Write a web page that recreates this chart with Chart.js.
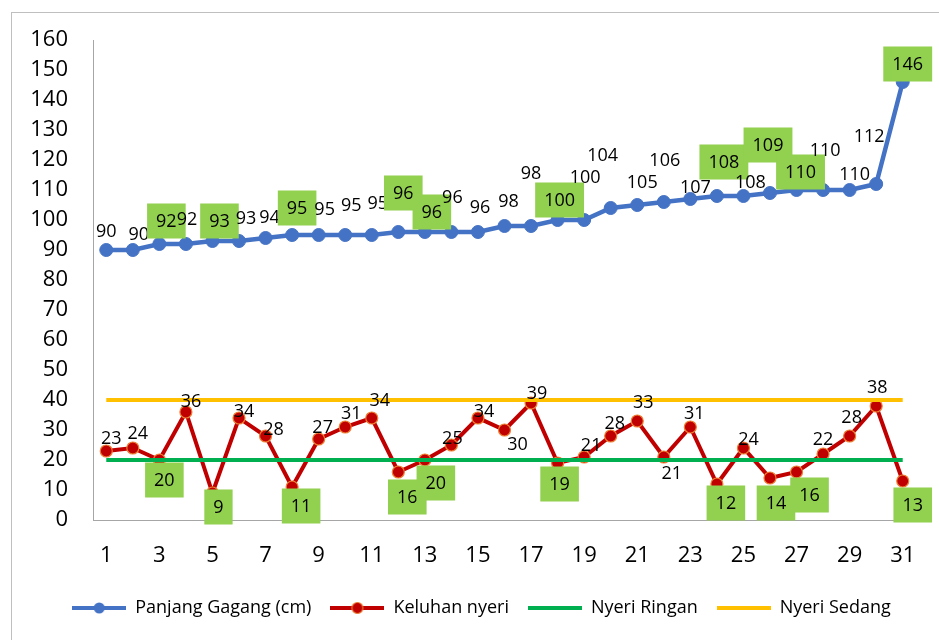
<!DOCTYPE html>
<html>
<head>
<meta charset="utf-8">
<script src="https://cdn.jsdelivr.net/npm/chart.js@4.4.1/dist/chart.umd.min.js"></script>
<style>
  body { margin: 0; background: #fff; }
</style>
</head>
<body>
<canvas id="lineChart" width="939" height="640"></canvas>
<script>
// data
var hari = [1, 2, 3, 4, 5, 6, 7, 8, 9, 10, 11, 12, 13, 14, 15, 16, 17, 18, 19, 20, 21, 22, 23, 24, 25, 26, 27, 28, 29, 30, 31];
var panjangGagang = [90, 90, 92, 92, 93, 93, 94, 95, 95, 95, 95, 96, 96, 96, 96, 98, 98, 100, 100, 104, 105, 106, 107, 108, 108, 109, 110, 110, 110, 112, 146];
var keluhanNyeri = [23, 24, 20, 36, 9, 34, 28, 11, 27, 31, 34, 16, 20, 25, 34, 30, 39, 19, 21, 28, 33, 21, 31, 12, 24, 14, 16, 22, 28, 38, 13];
var nyeriRingan = [20, 20, 20, 20, 20, 20, 20, 20, 20, 20, 20, 20, 20, 20, 20, 20, 20, 20, 20, 20, 20, 20, 20, 20, 20, 20, 20, 20, 20, 20, 20];
var nyeriSedang = [40, 40, 40, 40, 40, 40, 40, 40, 40, 40, 40, 40, 40, 40, 40, 40, 40, 40, 40, 40, 40, 40, 40, 40, 40, 40, 40, 40, 40, 40, 40];
var seriesNames = ['Panjang Gagang (cm)', 'Keluhan nyeri', 'Nyeri Ringan', 'Nyeri Sedang'];
var yTicks = [0, 160, 10]; // min, max, step

// days whose labels sit in a green box
var hariDitandai = [3, 5, 8, 12, 13, 18, 24, 26, 27, 31];

// label nudges (px) from the point
var geserBiru = [[0,-19],[6,-16],[7,-23],[1,-25],[7,-20],[7,-23],[4,-21],[5,-27],[6,-26],[6,-30],[6,-32],[5,-39],[7,-20],[1,-35],[2,-25],[4,-25],[0,-53],[2,-20],[1,-43],[-8,-53],[5,-23],[1,-42],[5,-12],[7,-34],[7,-14],[-2,-48],[4,-18],[2,-40],[5,-16],[-7,-48],[5,-18]];
var geserMerah = [[5,-13],[5,-15],[5,20],[5,-11],[6,14],[5,-7],[8,-7],[9,19],[4,-12],[6,-14],[8,-18],[9,25],[11,23],[1,-7],[6,-7],[13,14],[6,-10],[2,21],[7,-12],[4,-13],[6,-19],[8,16],[4,-14],[9,19],[5,-9],[6,25],[13,23],[0,-15],[2,-19],[1,-19],[10,24]];

var FONT = "'Open Sans', 'DejaVu Sans', sans-serif";

function makeIcon(color, dotFill, dotBorder) {
    var c = document.createElement('canvas');
    c.width = 54; c.height = 14;
    var g = c.getContext('2d');
    g.strokeStyle = color;
    g.lineWidth = 4;
    g.beginPath(); g.moveTo(0, 7); g.lineTo(54, 7); g.stroke();
    if (dotFill) {
        g.beginPath();
        g.arc(27, 7, 5.5, 0, Math.PI * 2);
        g.fillStyle = dotFill;
        g.fill();
        if (dotBorder) { g.lineWidth = 1.2; g.strokeStyle = dotBorder; g.stroke(); }
    }
    return c;
}
var legendIcons = [
    makeIcon('#4472C4', '#4472C4'),
    makeIcon('#C00000', '#C00000', '#ED7D31'),
    makeIcon('#00B050'),
    makeIcon('#FFC000')
];

// grey frame round the whole chart
var frame = {
    id: 'frame',
    beforeDraw: function(chart) {
        var ctx = chart.ctx;
        ctx.save();
        ctx.strokeStyle = '#BFBFBF';
        ctx.lineWidth = 1;
        ctx.strokeRect(11.5, 12.5, 940, 640);
        ctx.restore();
    }
};

// legend in the original sits a bit right of the canvas centre
var legendShift = {
    id: 'legendShift',
    afterLayout: function(chart) {
        chart.legend.left += 12;
        chart.legend.right += 12;
    }
};

// value labels, boxed in green on the marked days
var valueLabels = {
    id: 'valueLabels',
    afterDatasetsDraw: function(chart) {
        var ctx = chart.ctx;
        ctx.save();
        ctx.font = '18px ' + FONT;
        ctx.textAlign = 'center';
        ctx.textBaseline = 'middle';
        [[0, geserBiru], [1, geserMerah]].forEach(function(pair) {
            var meta = chart.getDatasetMeta(pair[0]);
            var values = chart.data.datasets[pair[0]].data;
            meta.data.forEach(function(pt, i) {
                var txt = String(values[i]);
                var x = pt.x + pair[1][i][0];
                var y = pt.y + pair[1][i][1];
                if (hariDitandai.indexOf(hari[i]) !== -1) {
                    var w = ctx.measureText(txt).width + 18;
                    ctx.fillStyle = '#92D050';
                    ctx.fillRect(x - w / 2, y - 17.5, w, 35);
                }
                ctx.fillStyle = '#000';
                ctx.fillText(txt, x, y + 1);
            });
        });
        ctx.restore();
    }
};

var ctx = document.getElementById('lineChart').getContext('2d');
var lineChart = new Chart(ctx, {
    type: 'line',
    data: {
        labels: hari,
        datasets: [{
            label: seriesNames[0],
            data: panjangGagang,
            borderColor: '#4472C4',
            backgroundColor: '#4472C4',
            borderWidth: 4.5,
            pointRadius: 6.5,
            pointBackgroundColor: '#4472C4',
            pointBorderColor: '#4472C4',
            pointBorderWidth: 1,
            order: 4
        }, {
            label: seriesNames[1],
            data: keluhanNyeri,
            borderColor: '#C00000',
            backgroundColor: '#C00000',
            borderWidth: 4,
            pointRadius: 6,
            pointBackgroundColor: '#C00000',
            pointBorderColor: '#ED7D31',
            pointBorderWidth: 1.2,
            order: 3
        }, {
            label: seriesNames[2],
            data: nyeriRingan,
            borderColor: '#00B050',
            backgroundColor: '#00B050',
            borderWidth: 4,
            pointRadius: 0,
            order: 2
        }, {
            label: seriesNames[3],
            data: nyeriSedang,
            borderColor: '#FFC000',
            backgroundColor: '#FFC000',
            borderWidth: 4,
            pointRadius: 0,
            order: 1
        }]
    },
    options: {
        responsive: false,
        animation: false,
        layout: { padding: { left: 23, right: 23, top: 40, bottom: 13 } },
        scales: {
            x: {
                offset: true,
                grid: { display: false, drawTicks: false },
                border: { display: true, color: '#A6A6A6', width: 1 },
                afterFit: function(scale) { scale.height = 60; },
                ticks: {
                    autoSkip: false,
                    maxRotation: 0,
                    padding: 23,
                    color: '#000',
                    font: { family: FONT, size: 22 },
                    callback: function(value, index) {
                        return index % 2 === 0 ? this.getLabelForValue(value) : '';
                    }
                }
            },
            y: {
                min: yTicks[0],
                max: yTicks[1],
                grid: { display: false, drawTicks: false },
                border: { display: true, color: '#A6A6A6', width: 1 },
                afterFit: function(scale) { scale.width = 70; },
                ticks: {
                    stepSize: yTicks[2],
                    padding: 25,
                    color: '#000',
                    font: { family: FONT, size: 22 }
                }
            }
        },
        plugins: {
            tooltip: { enabled: false },
            legend: {
                position: 'bottom',
                labels: {
                    usePointStyle: true,
                    pointStyleWidth: 54,
                    padding: 19,
                    color: '#000',
                    font: { family: FONT, size: 18 },
                    generateLabels: function(chart) {
                        var items = Chart.defaults.plugins.legend.labels.generateLabels(chart);
                        items.sort(function(a, b) { return a.datasetIndex - b.datasetIndex; });
                        items.forEach(function(it) { it.pointStyle = legendIcons[it.datasetIndex]; });
                        return items;
                    }
                }
            }
        }
    },
    plugins: [frame, legendShift, valueLabels]
});
</script>
</body>
</html>
